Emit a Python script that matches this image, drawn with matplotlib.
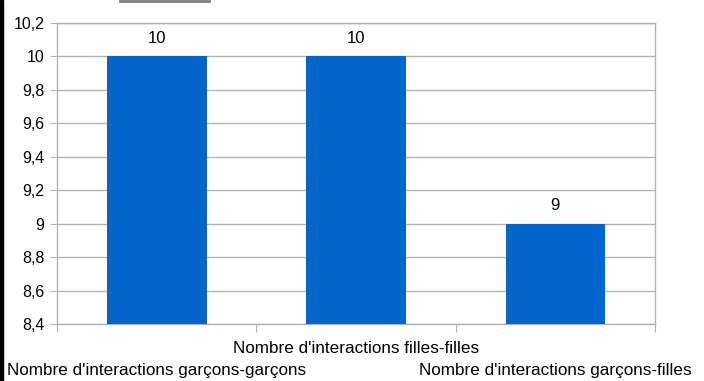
import matplotlib.pyplot as plt
from matplotlib.lines import Line2D
from matplotlib.patches import Rectangle

plt.rcParams['font.family'] = ['Liberation Sans', 'DejaVu Sans']

# Nombre d'interactions par type de paire
categories = [
    "Nombre d'interactions garçons-garçons",
    "Nombre d'interactions filles-filles",
    "Nombre d'interactions garçons-filles",
]
values = [10, 10, 9]
y_ticks = [8.4, 8.6, 8.8, 9.0, 9.2, 9.4, 9.6, 9.8, 10.0, 10.2]

fig = plt.figure(figsize=(7.04, 3.81), dpi=100)
ax = fig.add_axes([57 / 704, 1 - 324 / 381, 598 / 704, 301 / 381])

x = range(len(values))
bars = ax.bar(x, values, width=0.5, color='#0066cc', zorder=3)
ax.set_xlim(-0.5, len(values) - 0.5)
ax.set_ylim(8.4, 10.2)

# valeurs au-dessus des barres
for xi, v in zip(x, values):
    ax.annotate(f"{v}", (xi, v), xytext=(0, 13), textcoords='offset points',
                ha='center', va='center', fontsize=12, color='black')

# grille et axes façon tableur
ax.set_yticks(y_ticks)
ax.set_yticklabels([f"{t:g}".replace('.', ',') for t in y_ticks], fontsize=11.5)
ax.yaxis.grid(True, color='#b3b3b3', linewidth=1, zorder=0)
for side in ['top', 'right', 'left', 'bottom']:
    ax.spines[side].set_color('#b3b3b3')
    ax.spines[side].set_linewidth(1)
ax.tick_params(axis='y', length=5, color='#b3b3b3', pad=4, labelcolor='black')

# graduations entre les catégories, étiquettes décalées sur deux lignes
ax.set_xticks([-0.5, 0.5, 1.5, 2.5])
ax.set_xticklabels([])
ax.tick_params(axis='x', length=6, color='#b3b3b3')
for xi, label in zip(x, categories):
    offset = -17.5 if xi % 2 == 1 else -33.5
    ax.annotate(label, (xi, 8.4), xytext=(0, offset), textcoords='offset points',
                ha='center', va='center', fontsize=12.3, color='black',
                annotation_clip=False)

# bordure noire à gauche et trait en haut
fig.add_artist(Rectangle((0, 0), 3 / 704, 1, transform=fig.transFigure,
                         color='black', zorder=10))
fig.add_artist(Line2D([120 / 704, 209 / 704], [1 - 0.5 / 381, 1 - 0.5 / 381],
                      transform=fig.transFigure, color='#808080', linewidth=2))

fig.savefig('out.png', dpi=100)
